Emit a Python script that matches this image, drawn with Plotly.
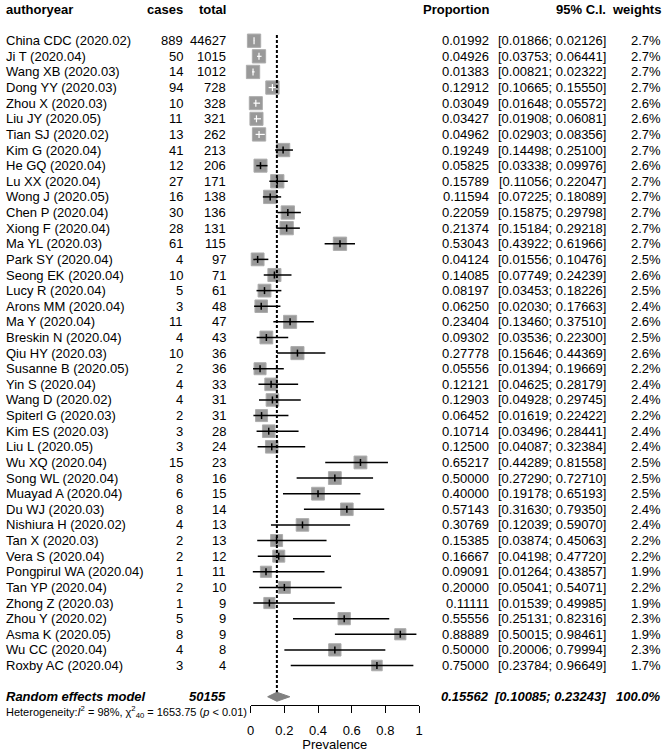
import plotly.graph_objects as go

# ---------------- data ----------------
studies = ["China CDC (2020.02)", "Ji T (2020.04)", "Wang XB (2020.03)", "Dong YY (2020.03)",
           "Zhou X (2020.03)", "Liu JY (2020.05)", "Tian SJ (2020.02)", "Kim G (2020.04)",
           "He GQ (2020.04)", "Lu XX (2020.04)", "Wong J (2020.05)", "Chen P (2020.04)",
           "Xiong F (2020.04)", "Ma YL (2020.03)", "Park SY (2020.04)", "Seong EK (2020.04)",
           "Lucy R (2020.04)", "Arons MM (2020.04)", "Ma Y (2020.04)", "Breskin N (2020.04)",
           "Qiu HY (2020.03)", "Susanne B (2020.05)", "Yin S (2020.04)", "Wang D (2020.02)",
           "Spiterl G (2020.03)", "Kim ES (2020.03)", "Liu L (2020.05)", "Wu XQ (2020.04)",
           "Song WL (2020.04)", "Muayad A (2020.04)", "Du WJ (2020.03)", "Nishiura H (2020.02)",
           "Tan X (2020.03)", "Vera S (2020.04)", "Pongpirul WA (2020.04)", "Tan YP (2020.04)",
           "Zhong Z (2020.03)", "Zhou Y (2020.02)", "Asma K (2020.05)", "Wu CC (2020.04)",
           "Roxby AC (2020.04)"]
cases = [889, 50, 14, 94, 10, 11, 13, 41, 12, 27, 16, 30, 28, 61, 4, 10, 5, 3, 11, 4, 10, 2,
         4, 4, 2, 3, 3, 15, 8, 6, 8, 4, 2, 2, 1, 2, 1, 5, 8, 4, 3]
totals = [44627, 1015, 1012, 728, 328, 321, 262, 213, 206, 171, 138, 136, 131, 115, 97, 71,
          61, 48, 47, 43, 36, 36, 33, 31, 31, 28, 24, 23, 16, 15, 14, 13, 13, 12, 11, 10, 9,
          9, 9, 8, 4]
proportion = [0.01992, 0.04926, 0.01383, 0.12912, 0.03049, 0.03427, 0.04962, 0.19249, 0.05825,
              0.15789, 0.11594, 0.22059, 0.21374, 0.53043, 0.04124, 0.14085, 0.08197, 0.06250,
              0.23404, 0.09302, 0.27778, 0.05556, 0.12121, 0.12903, 0.06452, 0.10714, 0.12500,
              0.65217, 0.50000, 0.40000, 0.57143, 0.30769, 0.15385, 0.16667, 0.09091, 0.20000,
              0.11111, 0.55556, 0.88889, 0.50000, 0.75000]
ci_lower = [0.01866, 0.03753, 0.00821, 0.10665, 0.01648, 0.01908, 0.02903, 0.14498, 0.03338,
            0.11056, 0.07225, 0.15875, 0.15184, 0.43922, 0.01556, 0.07749, 0.03453, 0.02030,
            0.13460, 0.03536, 0.15646, 0.01394, 0.04625, 0.04928, 0.01619, 0.03496, 0.04087,
            0.44289, 0.27290, 0.19178, 0.31630, 0.12039, 0.03874, 0.04198, 0.01264, 0.05041,
            0.01539, 0.25131, 0.50015, 0.20006, 0.23784]
ci_upper = [0.02126, 0.06441, 0.02322, 0.15550, 0.05572, 0.06081, 0.08356, 0.25100, 0.09976,
            0.22047, 0.18089, 0.29798, 0.29218, 0.61966, 0.10476, 0.24239, 0.18226, 0.17663,
            0.37510, 0.22300, 0.44369, 0.19669, 0.28179, 0.29745, 0.22422, 0.28441, 0.32384,
            0.81558, 0.72710, 0.65193, 0.79350, 0.59070, 0.45063, 0.47720, 0.43857, 0.54071,
            0.49985, 0.82316, 0.98461, 0.79994, 0.96649]
weights = [2.7, 2.7, 2.7, 2.7, 2.6, 2.6, 2.7, 2.7, 2.6, 2.7, 2.7, 2.7, 2.7, 2.7, 2.5, 2.6, 2.5,
           2.4, 2.6, 2.5, 2.6, 2.2, 2.4, 2.4, 2.2, 2.4, 2.4, 2.5, 2.5, 2.5, 2.4, 2.4, 2.2, 2.2,
           1.9, 2.2, 1.9, 2.3, 1.9, 2.3, 1.7]

pooled_label = "Random effects model"
pooled_total = 50155
pooled_est = 0.15562
pooled_lower = 0.10085
pooled_upper = 0.23243
pooled_weight = 100.0
heterogeneity = "Heterogeneity:<i>I</i><sup>2</sup> = 98%, χ<sup>2</sup><sub>40</sub> = 1653.75 (<i>p</i> &lt; 0.01)"

x_ticks = [0, 0.2, 0.4, 0.6, 0.8, 1]
x_ticktext = ["0", "0.2", "0.4", "0.6", "0.8", "1"]
x_title = "Prevalence"
headers = ["authoryear", "cases", "total", "Proportion", "95% C.I.", "weights"]

# ---------------- layout constants ----------------
W, H = 667, 752
FONT = "Liberation Sans, Arial, sans-serif"
row0_px, row_step = 40.7, 15.62
n = len(studies)
rows = list(range(n))
pooled_row = n + 1
het_row = n + 2
header_row = -2
y_top = -row0_px / row_step
y_bot = (H - row0_px) / row_step
x0_px, x1_px = 250.7, 419.0
px_per_unit = x1_px - x0_px
max_box = 13.3
max_w = max(weights)
box_sizes = [max_box * (w / max_w) ** 0.5 for w in weights]

fig = go.Figure()

# squares
fig.add_trace(go.Scatter(
    x=proportion, y=rows, mode="markers",
    marker=dict(symbol="square", size=box_sizes, color="#6f6f6f",
                line=dict(color="#8a8a8a", width=1)),
    hoverinfo="skip", showlegend=False, cliponaxis=False))

# CI lines: white inside box, black otherwise
bx, by, wx, wy = [], [], [], []
btx, bty, wtx, wty = [], [], [], []
for i in rows:
    half = box_sizes[i] / 2 / px_per_unit
    inside = (ci_lower[i] >= proportion[i] - half) and (ci_upper[i] <= proportion[i] + half)
    if inside:
        wx += [ci_lower[i], ci_upper[i], None]; wy += [i, i, None]
        wtx.append(proportion[i]); wty.append(i)
    else:
        bx += [ci_lower[i], ci_upper[i], None]; by += [i, i, None]
        btx.append(proportion[i]); bty.append(i)

fig.add_trace(go.Scatter(x=bx, y=by, mode="lines", line=dict(color="black", width=1.5),
                         hoverinfo="skip", showlegend=False, cliponaxis=False))
fig.add_trace(go.Scatter(x=wx, y=wy, mode="lines", line=dict(color="white", width=1.2),
                         hoverinfo="skip", showlegend=False, cliponaxis=False))
fig.add_trace(go.Scatter(x=btx, y=bty, mode="markers",
                         marker=dict(symbol="line-ns", size=5, line=dict(color="black", width=1.5)),
                         hoverinfo="skip", showlegend=False, cliponaxis=False))
fig.add_trace(go.Scatter(x=wtx, y=wty, mode="markers",
                         marker=dict(symbol="line-ns", size=5, line=dict(color="white", width=1.2)),
                         hoverinfo="skip", showlegend=False, cliponaxis=False))

# pooled diamond
dh = 0.29
fig.add_trace(go.Scatter(
    x=[pooled_lower, pooled_est, pooled_upper, pooled_est, pooled_lower],
    y=[pooled_row, pooled_row - dh, pooled_row, pooled_row + dh, pooled_row],
    mode="lines", fill="toself", fillcolor="#808080", line=dict(color="#808080", width=1),
    hoverinfo="skip", showlegend=False, cliponaxis=False))

# dashed line at pooled estimate
fig.add_trace(go.Scatter(
    x=[pooled_est, pooled_est], y=[-0.36, pooled_row - dh],
    mode="lines", line=dict(color="black", width=2, dash="3px,2px"),
    hoverinfo="skip", showlegend=False, cliponaxis=False))

# ---------------- text columns ----------------
col_x = {"author": 4, "cases": 185, "total": 227.7, "prop": 491, "ci": 607.7, "w": 662.7}
anns = []


def txt(x_px, row, text, anchor, bold=False, italic=False, size=13):
    t = text
    if bold:
        t = "<b>" + t + "</b>"
    if italic:
        t = "<i>" + t + "</i>"
    anns.append(dict(x=x_px / W, y=row, xref="paper", yref="y", text=t, showarrow=False,
                     xanchor=anchor, yanchor="middle", font=dict(size=size, color="black", family=FONT)))


txt(col_x["author"], header_row, headers[0], "left", bold=True)
txt(col_x["cases"], header_row, headers[1], "right", bold=True)
txt(col_x["total"], header_row, headers[2], "right", bold=True)
txt(col_x["prop"], header_row, headers[3], "right", bold=True)
txt(col_x["ci"], header_row, headers[4], "right", bold=True)
txt(col_x["w"], header_row, headers[5], "right", bold=True)

for i in rows:
    txt(col_x["author"], i, studies[i], "left")
    txt(col_x["cases"], i, str(cases[i]), "right")
    txt(col_x["total"], i, str(totals[i]), "right")
    txt(col_x["prop"], i, f"{proportion[i]:.5f}", "right")
    txt(col_x["ci"], i, f"[{ci_lower[i]:.5f}; {ci_upper[i]:.5f}]", "right")
    txt(col_x["w"], i, f"{weights[i]:.1f}%", "right")

txt(col_x["author"], pooled_row, pooled_label, "left", bold=True, italic=True)
txt(col_x["total"], pooled_row, str(pooled_total), "right", bold=True, italic=True)
txt(col_x["prop"], pooled_row, f"{pooled_est:.5f}", "right", bold=True, italic=True)
txt(col_x["ci"], pooled_row, f"[{pooled_lower:.5f}; {pooled_upper:.5f}]", "right", bold=True, italic=True)
txt(col_x["w"], pooled_row, f"{pooled_weight:.1f}%", "right", bold=True, italic=True)
txt(col_x["author"], het_row, heterogeneity, "left", size=11)

fig.update_layout(
    width=W, height=H, margin=dict(l=0, r=0, t=0, b=0),
    paper_bgcolor="white", plot_bgcolor="white",
    font=dict(family=FONT, size=13, color="black"),
    annotations=anns,
    xaxis=dict(domain=[x0_px / W, x1_px / W], range=[0, 1], anchor="free",
               position=1 - 705 / H, showline=True, linecolor="black", linewidth=1.3,
               ticks="outside", ticklen=7, tickwidth=1.3, tickcolor="black",
               tickvals=x_ticks, ticktext=x_ticktext, ticklabelstandoff=6,
               tickfont=dict(size=13, family=FONT, color="black"),
               showgrid=False, zeroline=False, fixedrange=True,
               title=dict(text=x_title, font=dict(size=13, family=FONT, color="black"), standoff=2),
               automargin=False),
    yaxis=dict(domain=[0, 1], range=[y_bot, y_top], visible=False, showgrid=False,
               zeroline=False, fixedrange=True),
)

fig.write_html("out.html", config={"displayModeBar": False},
               post_script="document.body.style.margin='0';document.body.style.overflow='hidden';")
